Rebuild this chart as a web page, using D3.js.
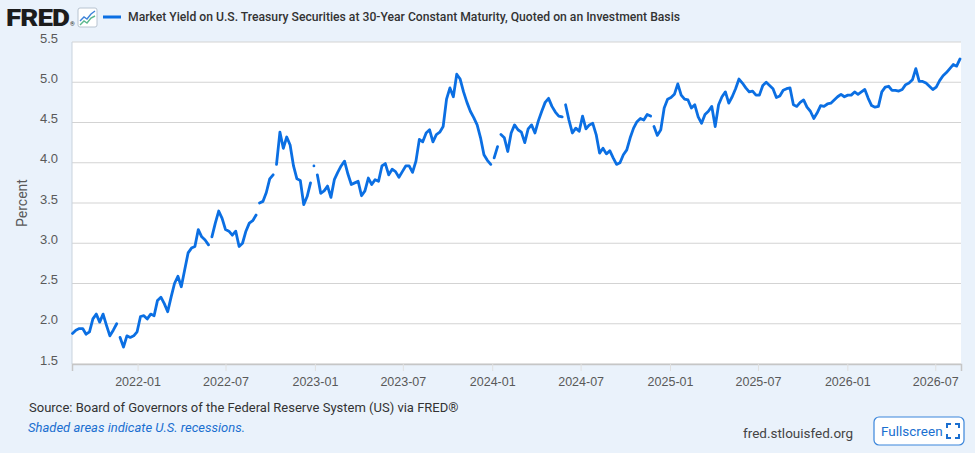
<!DOCTYPE html>
<html>
<head>
<meta charset="utf-8">
<script src="https://cdn.jsdelivr.net/npm/d3@7"></script>
<style>
  html, body { margin: 0; padding: 0; background: #eaf2fb; }
  svg { display: block; font-family: Roboto, "Noto Sans", sans-serif; }
</style>
</head>
<body>
<svg id="chart" width="975" height="453"></svg>
<script>
// weekly (Friday) readings of the 30-year yield, first one on 2021-08-20
var startDate = "2021-08-20";
var weeklyYield = [
  1.88, 1.92, 1.94, 1.94, 1.87, 1.90, 2.06, 2.12, 2.02, 2.12,
  1.98, 1.85, 1.92, 2.00, 1.83, 1.71, 1.85, 1.83, 1.85, 1.90,
  2.09, 2.10, 2.06, 2.12, 2.10, 2.29, 2.33, 2.25, 2.15, 2.33,
  2.50, 2.59, 2.46, 2.67, 2.88, 2.94, 2.96, 3.17, 3.08, 3.04,
  2.98, 3.08, 3.25, 3.40, 3.31, 3.17, 3.15, 3.10, 3.15, 2.96,
  3.00, 3.15, 3.25, 3.28, 3.35, 3.50, 3.52, 3.63, 3.80, 3.85,
  3.98, 4.38, 4.18, 4.32, 4.22, 3.96, 3.80, 3.78, 3.48, 3.58,
  3.75, 3.96, 3.85, 3.62, 3.65, 3.71, 3.57, 3.79, 3.88, 3.96,
  4.02, 3.86, 3.73, 3.75, 3.77, 3.59, 3.65, 3.81, 3.73, 3.79,
  3.77, 3.96, 3.99, 3.85, 3.92, 3.89, 3.82, 3.89, 3.96, 3.96,
  3.88, 4.02, 4.29, 4.26, 4.37, 4.41, 4.26, 4.35, 4.38, 4.45,
  4.79, 4.93, 4.82, 5.10, 5.04, 4.88, 4.75, 4.64, 4.56, 4.47,
  4.31, 4.10, 4.03, 3.98, 4.06, 4.20, 4.35, 4.31, 4.14, 4.37,
  4.47, 4.41, 4.38, 4.25, 4.42, 4.47, 4.37, 4.52, 4.64, 4.75,
  4.80, 4.70, 4.63, 4.58, 4.57, 4.72, 4.53, 4.37, 4.43, 4.39,
  4.58, 4.42, 4.47, 4.49, 4.35, 4.12, 4.18, 4.11, 4.15, 4.06,
  3.98, 4.00, 4.10, 4.16, 4.31, 4.43, 4.51, 4.55, 4.53, 4.60,
  4.58, 4.45, 4.34, 4.41, 4.68, 4.79, 4.81, 4.85, 4.98, 4.84,
  4.79, 4.78, 4.68, 4.72, 4.57, 4.49, 4.60, 4.64, 4.70, 4.45,
  4.72, 4.82, 4.88, 4.74, 4.82, 4.92, 5.04, 4.99, 4.93, 4.88,
  4.89, 4.84, 4.84, 4.96, 5.00, 4.96, 4.92, 4.81, 4.83, 4.90,
  4.92, 4.93, 4.72, 4.70, 4.75, 4.78, 4.69, 4.64, 4.55, 4.62,
  4.71, 4.70, 4.73, 4.74, 4.78, 4.82, 4.85, 4.82, 4.84, 4.84,
  4.88, 4.85, 4.88, 4.91, 4.80, 4.71, 4.69, 4.70, 4.88, 4.94,
  4.95, 4.90, 4.90, 4.89, 4.91, 4.97, 4.99, 5.03, 5.17, 5.01,
  5.01, 4.99, 4.95, 4.91, 4.94, 5.02, 5.08, 5.12, 5.17, 5.22,
  5.20, 5.29
];
// market holidays, the line breaks there
var closedDays = ["2021-11-25", "2022-05-30", "2022-09-05", "2022-10-10",
  "2022-12-26", "2023-01-02", "2024-01-01", "2024-01-15", "2024-05-27", "2024-11-28"];
var yTicks = [1.5, 2.0, 2.5, 3.0, 3.5, 4.0, 4.5, 5.0, 5.5];
var xDomain = ["2021-08-19", "2026-08-23"];
var titleText = "Market Yield on U.S. Treasury Securities at 30-Year Constant Maturity, Quoted on an Investment Basis";

var parse = d3.utcParse("%Y-%m-%d");
var start = parse(startDate);
var data = weeklyYield.map(function(v, i) {
  return { date: d3.utcDay.offset(start, 7 * i), value: v };
});
closedDays.forEach(function(d) { data.push({ date: parse(d), value: null }); });
data.sort(function(a, b) { return a.date - b.date; });

var margin = {top: 42, right: 14, bottom: 89, left: 72},
    width = 975 - margin.left - margin.right,
    height = 453 - margin.top - margin.bottom;

var svg = d3.select("#chart");

var x = d3.scaleUtc()
    .domain(xDomain.map(parse))
    .range([0, width]);

var y = d3.scaleLinear()
    .domain([1.5, 5.5])
    .range([height, 0]);

var g = svg.append("g").attr("transform", "translate(" + margin.left + "," + margin.top + ")");

g.append("rect")
    .attr("width", width)
    .attr("height", height)
    .attr("fill", "#fff");

// horizontal grid
g.append("g")
    .selectAll("line")
    .data(yTicks)
    .join("line")
      .attr("x1", 0)
      .attr("x2", width)
      .attr("y1", function(d) { return y(d); })
      .attr("y2", function(d) { return y(d); })
      .attr("stroke", "#d3d3d3")
      .attr("stroke-width", 1.2);

g.append("line")
    .attr("x1", 0).attr("x2", 0)
    .attr("y1", 0).attr("y2", height)
    .attr("stroke", "#c9d3dd");

var yAxis = g.append("g")
    .call(d3.axisLeft(y).tickValues(yTicks).tickFormat(d3.format(".1f")).tickSize(0).tickPadding(14));
yAxis.select(".domain").remove();
yAxis.selectAll("text")
    .attr("y", -4)
    .attr("fill", "#595959")
    .style("font-size", "13px");

var xTicks = x.ticks(d3.utcMonth.every(6)).filter(function(d) { return d.getUTCMonth() % 6 == 0; });
var xAxis = g.append("g")
    .attr("transform", "translate(0," + height + ")")
    .call(d3.axisBottom(x).tickValues(xTicks).tickFormat(d3.utcFormat("%Y-%m")).tickSize(7).tickPadding(6));
xAxis.select(".domain").attr("stroke", "#c6c6c6").attr("stroke-width", 1.5);
xAxis.selectAll(".tick line").attr("stroke", "#e0e0e0");
xAxis.selectAll("text")
    .attr("fill", "#595959")
    .style("font-size", "12.5px");

g.append("text")
    .attr("transform", "translate(" + (-45) + "," + (height / 2) + ") rotate(-90)")
    .attr("text-anchor", "middle")
    .attr("fill", "#595959")
    .style("font-size", "14px")
    .text("Percent");

var line = d3.line()
    .defined(function(d) { return d.value != null; })
    .x(function(d) { return x(d.date); })
    .y(function(d) { return y(d.value); });

g.append("path")
    .datum(data)
    .attr("fill", "none")
    .attr("stroke", "#0b6fe3")
    .attr("stroke-width", 2.8)
    .attr("stroke-linejoin", "round")
    .attr("stroke-linecap", "round")
    .attr("d", line);

// header: logo, icon, legend
svg.append("text")
    .attr("x", 6).attr("y", 26)
    .attr("fill", "#1c1c1c")
    .style("font-size", "24px")
    .style("font-weight", "900")
    .style("letter-spacing", "-0.8px")
    .attr("textLength", 63)
    .attr("lengthAdjust", "spacingAndGlyphs")
    .text("FRED");
svg.append("text")
    .attr("x", 70).attr("y", 26)
    .attr("fill", "#1c1c1c")
    .style("font-size", "6px")
    .text("®");

var icon = svg.append("g").attr("transform", "translate(78,8)");
icon.append("rect")
    .attr("width", 19).attr("height", 19).attr("rx", 2)
    .attr("fill", "#fff").attr("stroke", "#b8c4d0");
icon.append("path")
    .attr("d", "M2,13 L6,9 L9,11 L13,6 L17,3")
    .attr("fill", "none").attr("stroke", "#3d83d9").attr("stroke-width", 1.4);
icon.append("path")
    .attr("d", "M2,17 L6,13 L9,15 L13,10 L17,8")
    .attr("fill", "none").attr("stroke", "#5cb88e").attr("stroke-width", 1.4);

svg.append("line")
    .attr("x1", 103).attr("x2", 121)
    .attr("y1", 17).attr("y2", 17)
    .attr("stroke", "#0b6fe3").attr("stroke-width", 3);
svg.append("text")
    .attr("x", 128).attr("y", 21)
    .attr("fill", "#333")
    .style("font-size", "12px")
    .style("font-weight", "500")
    .attr("textLength", 552)
    .attr("lengthAdjust", "spacingAndGlyphs")
    .text(titleText);

// footer
svg.append("text")
    .attr("x", 29).attr("y", 412)
    .attr("fill", "#333")
    .style("font-size", "13px")
    .text("Source: Board of Governors of the Federal Reserve System (US) via FRED®");
svg.append("text")
    .attr("x", 28).attr("y", 432)
    .attr("fill", "#1a6fd0")
    .style("font-size", "13px")
    .style("font-style", "italic")
    .text("Shaded areas indicate U.S. recessions.");
svg.append("text")
    .attr("x", 743).attr("y", 438)
    .attr("fill", "#444")
    .style("font-size", "13.5px")
    .text("fred.stlouisfed.org");

var btn = svg.append("g").attr("transform", "translate(874,417)");
btn.append("rect")
    .attr("width", 90).attr("height", 28).attr("rx", 5)
    .attr("fill", "#fff").attr("stroke", "#3a85db").attr("stroke-width", 1.2);
btn.append("text")
    .attr("x", 7).attr("y", 19)
    .attr("fill", "#1a6fd0")
    .style("font-size", "13.5px")
    .text("Fullscreen");
btn.append("path")
    .attr("d", "M73,11 V7 H77 M81,7 H85 V11 M85,17 V21 H81 M77,21 H73 V17")
    .attr("fill", "none").attr("stroke", "#1a6fd0").attr("stroke-width", 2);
</script>
</body>
</html>
